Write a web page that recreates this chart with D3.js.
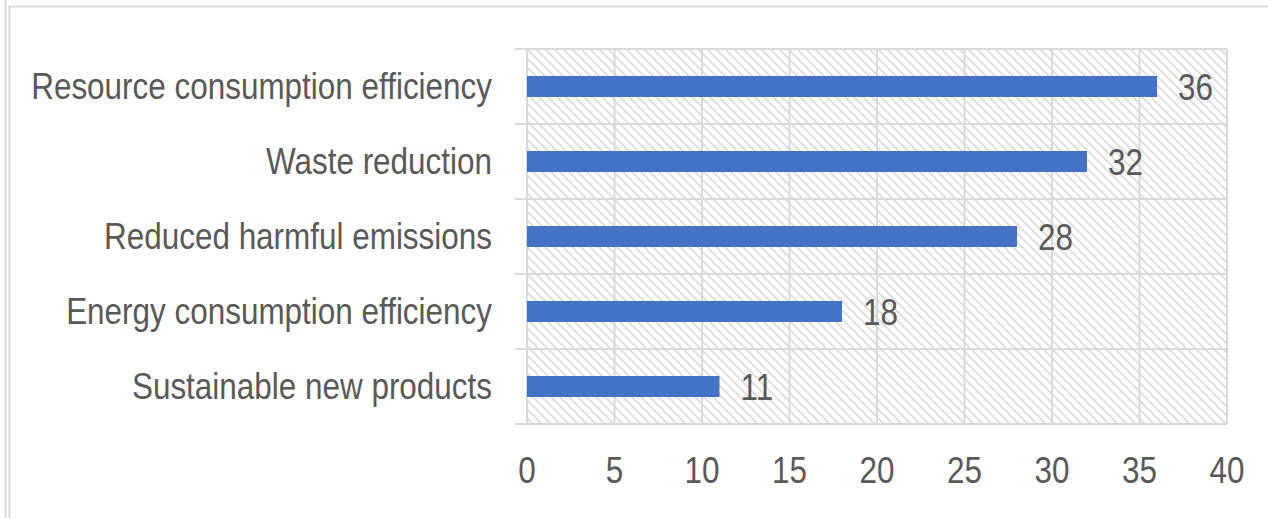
<!DOCTYPE html>
<html>
<head>
<meta charset="utf-8">
<script src="https://cdn.jsdelivr.net/npm/d3@7"></script>
<style>
  body { margin: 0; background: #fff; }
  svg { display: block; }
  .lbl { font-family: "Liberation Sans Narrow", "Arial Narrow", "Liberation Sans", sans-serif; fill: #595959; }
</style>
</head>
<body>
<script>
// data
var categories = ["Resource consumption efficiency", "Waste reduction", "Reduced harmful emissions",
                  "Energy consumption efficiency", "Sustainable new products"];
var values = [36, 32, 28, 18, 11];
var xTicks = [0, 5, 10, 15, 20, 25, 30, 35, 40];

var W = 1268, H = 518;
var margin = { top: 49, right: 41, bottom: 94, left: 527 }
  , width = W - margin.left - margin.right
  , height = H - margin.top - margin.bottom;

var fontSize = 37, narrow = 0.85; // squeeze text to mimic a narrow font

var svg = d3.select("body").append("svg")
  .attr("width", W)
  .attr("height", H);

// hatch fill used for the plot area
var defs = svg.append("defs");
var pat = defs.append("pattern")
  .attr("id", "hatch")
  .attr("patternUnits", "userSpaceOnUse")
  .attr("width", 9)
  .attr("height", 9);
pat.append("rect").attr("width", 9).attr("height", 9).attr("fill", "#fff");
pat.append("path")
  .attr("d", "M-2,-2 L11,11 M-2,7 L2,11 M7,-2 L11,2")
  .attr("stroke", "#e0e0e0")
  .attr("stroke-width", 2);

// outer chart frame
svg.append("line").attr("x1", 5.5).attr("x2", 5.5).attr("y1", 0).attr("y2", H)
  .attr("stroke", "#d9d9d9").attr("stroke-width", 2);
svg.append("path").attr("d", "M9.5," + H + " V6.5 H" + W)
  .attr("fill", "none").attr("stroke", "#d9d9d9").attr("stroke-width", 2);

var g = svg.append("g")
  .attr("transform", "translate(" + margin.left + "," + margin.top + ")");

var x = d3.scaleLinear().domain([0, 40]).range([0, width]);
var y = d3.scaleBand().domain(categories).range([0, height]).paddingInner(0.72).paddingOuter(0.36);
var yGrid = d3.scaleBand().domain(categories).range([0, height]);

g.append("rect")
  .attr("width", width).attr("height", height)
  .attr("fill", "url(#hatch)");

// vertical gridlines
g.selectAll(".vgrid")
  .data(xTicks)
  .enter().append("line")
  .attr("class", "vgrid")
  .attr("x1", function (d) { return x(d); })
  .attr("x2", function (d) { return x(d); })
  .attr("y1", 0).attr("y2", height)
  .attr("stroke", "#d9d9d9").attr("stroke-width", 2);

// horizontal category lines with small ticks on the left
var hLines = categories.map(function (c) { return yGrid(c); }).concat([height]);
g.selectAll(".hgrid")
  .data(hLines)
  .enter().append("line")
  .attr("class", "hgrid")
  .attr("x1", -12).attr("x2", width)
  .attr("y1", function (d) { return d; })
  .attr("y2", function (d) { return d; })
  .attr("stroke", "#d9d9d9").attr("stroke-width", 2);

// bars
g.selectAll(".bar")
  .data(values)
  .enter().append("rect")
  .attr("class", "bar")
  .attr("x", x(0))
  .attr("y", function (d, i) { return y(categories[i]); })
  .attr("width", function (d) { return x(d) - x(0); })
  .attr("height", y.bandwidth())
  .attr("fill", "#4472c4");

function place(px, py) {
  return "translate(" + px + "," + py + ") scale(" + narrow + ",1)";
}

// value labels
g.selectAll(".val")
  .data(values)
  .enter().append("text")
  .attr("class", "lbl val")
  .attr("transform", function (d, i) { return place(x(d) + 21, y(categories[i]) + y.bandwidth() / 2 + 1); })
  .attr("dy", "0.35em")
  .attr("font-size", fontSize)
  .text(function (d) { return d; });

// category labels
g.selectAll(".cat")
  .data(categories)
  .enter().append("text")
  .attr("class", "lbl cat")
  .attr("transform", function (d) { return place(-35, yGrid(d) + yGrid.bandwidth() / 2); })
  .attr("dy", "0.35em")
  .attr("text-anchor", "end")
  .attr("font-size", fontSize)
  .text(function (d) { return d; });

// x tick labels
g.selectAll(".tick-lbl")
  .data(xTicks)
  .enter().append("text")
  .attr("class", "lbl tick-lbl")
  .attr("transform", function (d) { return place(x(d), height + 46); })
  .attr("dy", "0.35em")
  .attr("text-anchor", "middle")
  .attr("font-size", fontSize)
  .text(function (d) { return d; });
</script>
</body>
</html>
